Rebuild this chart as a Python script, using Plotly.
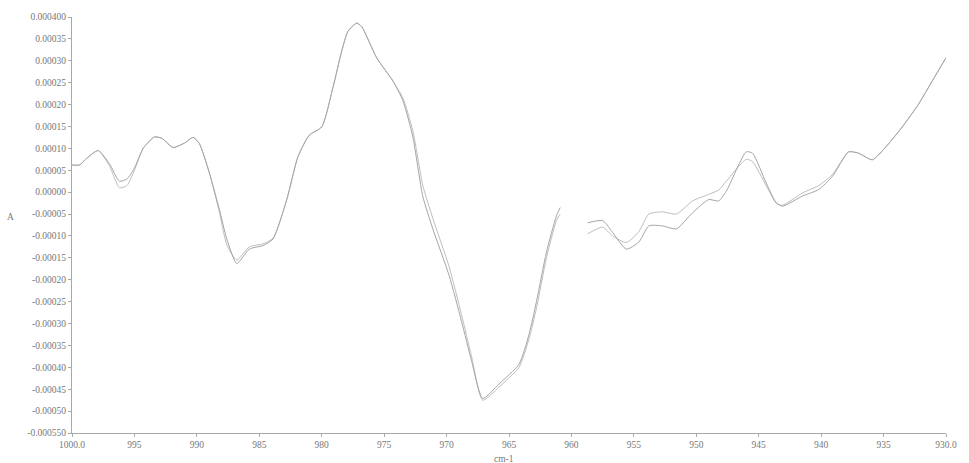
import plotly.graph_objects as go

# wavenumbers (cm-1), None marks the gap in the recorded data
wavenumber = [1000.0, 999.4, 998.8, 997.9, 997.0, 996.2, 995.6, 995.0, 994.3, 993.4,
              992.8, 991.9, 991.0, 990.3, 989.8, 989.0, 988.2, 987.6, 986.8, 985.8,
              984.7, 983.9, 982.8, 981.9, 981.0, 980.0, 979.1, 978.4, 977.9, 977.2,
              976.8, 975.6, 974.3, 973.5, 972.7, 971.9, 971.1, 969.8, 968.8, 968.0,
              967.1, 965.8, 964.2, 963.4, 962.8, 962.0, 961.2, 960.9, None,
              958.7, 957.5, 956.7, 955.6, 954.6, 953.8, 952.7, 951.6, 950.3, 949.0,
              948.2, 947.6, 946.0, 945.5, 944.4, 943.6, 943.1, 941.5, 940.2, 939.1,
              937.8, 937.0, 935.9, 934.8, 933.5, 932.2, 931.1, 930.0]

# absorbance, units of 1e-5
abs_a = [6.2, 6.2, 7.8, 9.5, 6.5, 2.5, 3.0, 5.5, 10.0, 12.6,
         12.3, 10.2, 11.2, 12.5, 11.1, 4.4, -3.9, -10.7, -16.3, -13.0,
         -12.2, -10.7, -1.7, 8.1, 13.0, 14.9, 23.9, 32.2, 36.7, 38.6,
         37.8, 30.7, 25.4, 20.9, 12.6, -1.0, -8.4, -19.0, -29.5, -38.5,
         -47.1, -43.8, -39.3, -32.5, -25.0, -13.7, -5.4, -3.5, None,
         -7.0, -6.5, -9.2, -13.0, -11.4, -7.7, -7.7, -8.4, -4.7, -1.7,
         -2.0, 0.2, 9.2, 8.9, 2.1, -2.4, -3.2, -0.9, 0.6, 3.6,
         9.2, 8.9, 7.4, 10.4, 14.9, 20.1, 25.4, 30.7]

abs_b = [6.2, 6.2, 7.8, 9.5, 6.0, 1.0, 1.5, 5.0, 10.0, 12.6,
         12.3, 10.2, 11.2, 12.5, 11.1, 4.4, -4.5, -12.0, -15.5, -12.5,
         -11.8, -10.5, -1.7, 8.1, 13.0, 14.9, 23.9, 32.2, 36.7, 38.6,
         37.8, 30.7, 25.4, 21.5, 14.0, 1.5, -6.0, -17.0, -28.0, -37.5,
         -47.5, -44.5, -40.0, -33.5, -26.5, -15.0, -6.5, -5.0, None,
         -9.5, -8.0, -10.0, -11.5, -9.0, -5.0, -4.5, -5.0, -2.0, -0.5,
         0.5, 2.5, 7.5, 7.0, 1.5, -2.5, -3.0, -0.2, 1.5, 4.0,
         9.2, 8.9, 7.4, 10.4, 14.9, 20.1, 25.4, 30.7]

y_ticks = [0.0004 - 0.00005 * i for i in range(20)]
y_labels = ["0.000400", "0.00035", "0.00030", "0.00025", "0.00020", "0.00015",
            "0.00010", "0.00005", "0.00000", "-0.00005", "-0.00010", "-0.00015",
            "-0.00020", "-0.00025", "-0.00030", "-0.00035", "-0.00040", "-0.00045",
            "-0.00050", "-0.000550"]
x_ticks = [1000, 995, 990, 985, 980, 975, 970, 965, 960, 955, 950, 945, 940, 935, 930]
x_labels = ["1000.0", "995", "990", "985", "980", "975", "970", "965", "960",
            "955", "950", "945", "940", "935", "930.0"]


def scale(vals):
    return [None if v is None else v * 1e-5 for v in vals]


fig = go.Figure()
fig.add_trace(go.Scatter(x=wavenumber, y=scale(abs_b), mode="lines",
                         line=dict(color="rgb(190,190,190)", width=1, shape="spline", smoothing=0.6),
                         connectgaps=False, showlegend=False, hoverinfo="skip"))
fig.add_trace(go.Scatter(x=wavenumber, y=scale(abs_a), mode="lines",
                         line=dict(color="rgb(165,165,165)", width=1, shape="spline", smoothing=0.6),
                         connectgaps=False, showlegend=False, hoverinfo="skip"))

font = dict(family="Liberation Serif, Times New Roman, serif", size=9.5, color="#787878")

fig.update_layout(
    width=969, height=463,
    margin=dict(l=72, r=21, t=12, b=30),
    paper_bgcolor="white", plot_bgcolor="white",
    font=font,
    xaxis=dict(range=[1000, 930], tickvals=x_ticks, ticktext=x_labels,
               showgrid=False, zeroline=False, showline=True, linecolor="#a8a8a8",
               linewidth=1, ticks="outside", ticklen=3, tickcolor="#a8a8a8",
               tickfont=font),
    yaxis=dict(range=[-0.00055, 0.0004], tickvals=y_ticks, ticktext=y_labels,
               showgrid=False, zeroline=False, showline=True, linecolor="#a8a8a8",
               linewidth=1, ticks="outside", ticklen=3, tickcolor="#a8a8a8",
               tickfont=font),
    annotations=[
        dict(text="A", xref="paper", yref="paper", x=-0.07, y=0.52,
             xanchor="center", yanchor="middle", showarrow=False, font=font),
        dict(text="cm-1", xref="paper", yref="paper", x=0.494, y=-0.045,
             xanchor="center", yanchor="top", showarrow=False, font=font),
    ],
)

fig.write_html("out.html", config={"displayModeBar": False},
               post_script="document.body.style.margin='0px';document.body.style.overflow='hidden';")
